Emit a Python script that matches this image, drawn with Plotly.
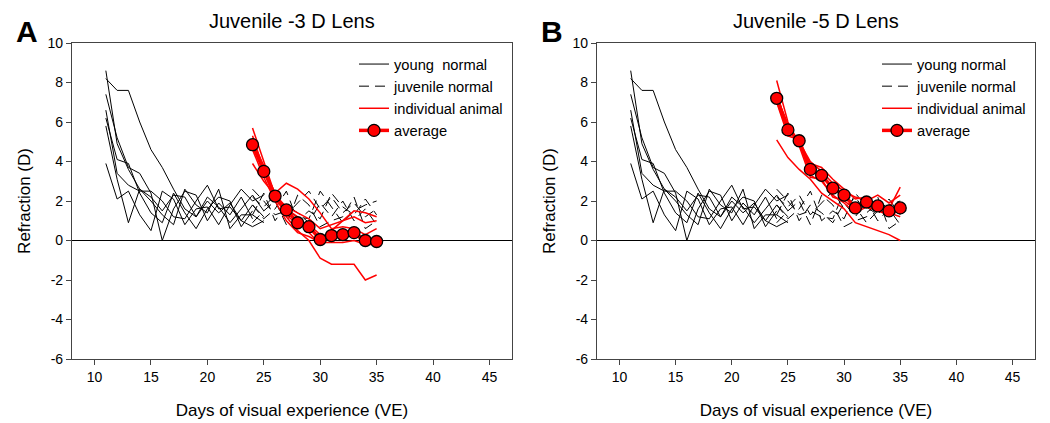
import plotly.graph_objects as go

# ---------------- data ----------------
young_days = list(range(11, 26))
young_normal = [
    [8.6, 4.9, 3.6, 2.6, 2.2, 1.5, 2.3, 2.2, 1.2, 2.0, 1.4, 1.9, 1.0, 1.8, 1.2],
    [8.2, 7.6, 7.6, 6.0, 4.6, 3.7, 2.6, 1.6, 1.2, 2.2, 1.7, 0.9, 1.6, 2.3, 1.5],
    [7.4, 5.2, 3.7, 3.4, 2.4, 0.0, 1.6, 2.5, 2.3, 1.0, 1.9, 1.3, 2.2, 1.1],
    [6.6, 3.4, 2.8, 2.5, 2.5, 2.0, 1.2, 1.1, 2.0, 2.8, 1.6, 1.7, 1.0, 0.7, 1.0],
    [6.2, 4.1, 3.9, 2.4, 1.4, 0.9, 2.4, 1.4, 0.6, 1.6, 2.2, 2.0, 0.7, 1.5],
    [5.8, 3.1, 0.9, 2.6, 2.0, 1.3, 0.8, 2.6, 1.8, 1.4, 2.6, 0.6, 1.3, 1.3, 0.9],
    [3.9, 2.1, 2.5, 1.3, 0.5, 2.5, 2.1, 0.8, 1.6, 1.7, 0.8, 1.8, 2.6, 2.0, 2.3],
]

late_days = list(range(24, 36))
juvenile_normal = [
    [2.2, 1.7, 2.3, 1.3, 1.9, 2.5, 1.6, 2.2, 1.4, 1.9, 1.2, 1.6],
    [1.3, 2.4, 1.0, 1.8, 1.4, 0.9, 1.9, 1.2, 2.0, 1.0, 1.6, 0.8],
    [1.8, 1.1, 1.6, 2.5, 1.0, 1.5, 1.1, 2.4, 1.7, 1.3, 2.1, 1.3],
    [0.9, 1.5, 2.0, 0.8, 2.3, 1.8, 0.7, 1.0, 1.2, 2.2, 0.6, 1.0],
    [2.6, 2.0, 1.3, 1.5, 1.2, 1.1, 2.5, 1.7, 0.9, 1.5, 1.8, 2.0],
]

lens3_individual = [
    [5.7, 4.0, 2.3, 1.2, 0.5, 0.0, -0.9, -1.2, -1.2, -1.2, -2.0, -1.75],
    [5.3, 3.6, 2.4, 2.9, 2.6, 2.1, 1.4, 0.6, 0.7, 0.6, 0.3, 0.6],
    [4.6, 3.2, 2.0, 1.6, 1.2, 0.4, -0.2, 0.5, 1.0, 1.5, 1.4, 1.2],
    [4.9, 3.5, 2.2, 1.3, 0.8, 0.8, 0.3, 0.2, 0.1, 0.3, -0.1, -0.2],
    [3.9, 3.0, 2.3, 1.7, 1.4, 1.1, 0.6, 0.8, 1.0, 1.2, 0.9, 1.0],
    [5.0, 3.8, 2.0, 1.0, 0.4, 0.2, -0.1, -0.1, -0.1, 0.0, -0.2, -0.2],
]
lens3_average = [4.85, 3.5, 2.25, 1.55, 0.9, 0.7, 0.05, 0.25, 0.3, 0.4, 0.0, -0.05]

lens5_individual = [
    [8.1, 6.0, 4.9, 3.9, 3.7, 3.1, 2.6, 2.1, 2.2, 1.7, 1.6, 2.7],
    [7.5, 5.6, 5.0, 4.0, 3.5, 2.9, 2.5, 2.2, 2.0, 2.3, 1.9, 2.3],
    [7.0, 5.3, 5.1, 3.3, 3.0, 2.3, 1.9, 1.4, 1.7, 1.5, 1.3, 1.5],
    [5.1, 4.2, 3.6, 3.1, 2.4, 2.0, 1.6, 0.9, 0.7, 0.5, 0.3, 0.0],
    [7.3, 5.9, 4.8, 3.2, 3.1, 2.2, 2.0, 1.6, 1.9, 1.5, 1.4, 1.2],
]
lens5_average = [7.2, 5.6, 5.05, 3.6, 3.3, 2.65, 2.3, 1.65, 1.95, 1.75, 1.5, 1.65]

x_ticks = [10, 15, 20, 25, 30, 35, 40, 45]
y_ticks = [10, 8, 6, 4, 2, 0, -2, -4, -6]
y_tick_labels = ["10", "8", "6", "4", "2", "0", "-2", "-4", "-6"]
panel_titles = ["Juvenile -3 D Lens", "Juvenile -5 D Lens"]
panel_letters = ["A", "B"]
legend_names = ["young  normal", "juvenile normal", "individual animal", "average"]

# ---------------- figure ----------------
OFF = 8                      # page body margin of the browser
W, H = 1050 - OFF, 423 - OFF
FONT = "Liberation Sans, Arial, sans-serif"
fig = go.Figure()


def px_x(p):
    return (p - OFF) / W


def px_y(p):
    return 1 - (p - OFF) / H


panels = [
    dict(xa="x", ya="y", leg="legend", indiv=lens3_individual, avg=lens3_average),
    dict(xa="x2", ya="y2", leg="legend2", indiv=lens5_individual, avg=lens5_average),
]

for i, p in enumerate(panels):
    names = legend_names if i == 0 else ["young normal"] + legend_names[1:]
    for k, ys in enumerate(young_normal):
        fig.add_trace(go.Scatter(
            x=young_days[:len(ys)], y=ys, mode="lines", xaxis=p["xa"], yaxis=p["ya"],
            line=dict(color="black", width=1), name=names[0],
            legend=p["leg"], showlegend=(k == 0), legendgroup=f"yn{i}"))
    for k, ys in enumerate(juvenile_normal):
        fig.add_trace(go.Scatter(
            x=late_days, y=ys, mode="lines", xaxis=p["xa"], yaxis=p["ya"],
            line=dict(color="black", width=1, dash="10px,6px"), name=names[1],
            legend=p["leg"], showlegend=(k == 0), legendgroup=f"jn{i}"))
    for k, ys in enumerate(p["indiv"]):
        fig.add_trace(go.Scatter(
            x=late_days, y=ys, mode="lines", xaxis=p["xa"], yaxis=p["ya"],
            line=dict(color="#ff0000", width=1.5), name=names[2],
            legend=p["leg"], showlegend=(k == 0), legendgroup=f"ia{i}"))
    fig.add_trace(go.Scatter(
        x=late_days, y=p["avg"], mode="lines+markers", xaxis=p["xa"], yaxis=p["ya"],
        line=dict(color="#ff0000", width=3.5),
        marker=dict(size=12, color="#ff0000", line=dict(color="black", width=1.3)),
        name=names[3], legend=p["leg"]))

# domains in screen pixels
dom_x = [(72, 512), (597, 1035)]
dom_y = (43, 359)
ydom = [px_y(dom_y[1]), px_y(dom_y[0])]

axis_common = dict(
    showline=True, mirror=True, linecolor="#444", linewidth=1.2,
    ticks="outside", ticklen=5, tickcolor="#444", tickwidth=1,
    showgrid=False, tickfont=dict(family=FONT, size=14, color="black"),
    automargin=False,
)
for i in range(2):
    sx = "" if i == 0 else "2"
    fig.layout["xaxis" + sx] = dict(
        axis_common, domain=[px_x(dom_x[i][0]), px_x(dom_x[i][1])], range=[8, 47],
        tickvals=x_ticks, anchor="y" + sx, zeroline=False,
        title=dict(text="Days of visual experience (VE)", font=dict(family=FONT, size=17, color="black"), standoff=20))
    fig.layout["yaxis" + sx] = dict(
        axis_common, domain=ydom, range=[-6, 10], tickvals=y_ticks, ticktext=y_tick_labels,
        anchor="x" + sx,
        zeroline=True, zerolinecolor="black", zerolinewidth=1,
        title=dict(text="Refraction (D)", font=dict(family=FONT, size=17, color="black"), standoff=12))

# legends
for i, leg in enumerate(["legend", "legend2"]):
    fig.layout[leg] = dict(
        x=px_x(dom_x[i][1] - 158), y=px_y(48), xanchor="left", yanchor="top",
        bgcolor="rgba(0,0,0,0)", borderwidth=0,
        font=dict(family=FONT, size=14.7, color="black"), tracegroupgap=0,
        itemwidth=30)

annotations = []
for i in range(2):
    cx = (dom_x[i][0] + dom_x[i][1]) / 2
    annotations.append(dict(
        text=panel_titles[i], x=px_x(cx), y=px_y(21), xref="paper", yref="paper",
        xanchor="center", yanchor="middle", showarrow=False,
        font=dict(family=FONT, size=20, color="black")))
    annotations.append(dict(
        text="<b>" + panel_letters[i] + "</b>", x=px_x(dom_x[i][0] - 45), y=px_y(31),
        xref="paper", yref="paper", xanchor="center", yanchor="middle", showarrow=False,
        font=dict(family=FONT, size=30, color="black")))

fig.update_layout(
    width=W, height=H, margin=dict(l=0, r=0, t=0, b=0, autoexpand=False),
    paper_bgcolor="white", plot_bgcolor="white",
    annotations=annotations, font=dict(family=FONT, color="black"),
)

fig.write_html("out.html")
